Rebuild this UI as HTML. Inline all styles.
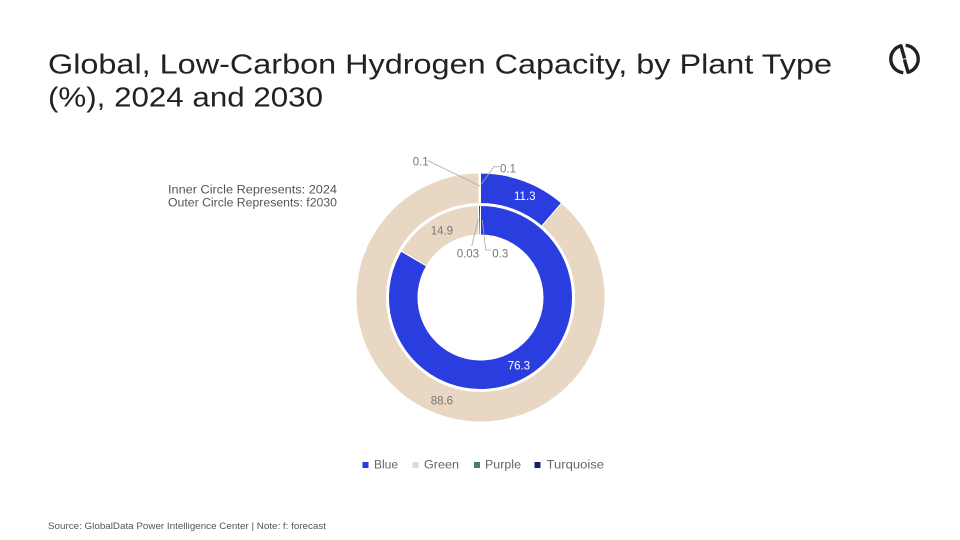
<!DOCTYPE html>
<html>
<head>
<meta charset="utf-8">
<style>
html,body{margin:0;padding:0;background:#fff;}
svg{display:block;}
text{font-family:"Liberation Sans",sans-serif;}
</style>
</head>
<body>
<svg width="960" height="540" viewBox="0 0 960 540" xmlns="http://www.w3.org/2000/svg">
<rect width="960" height="540" fill="#fff"/>
<!-- Title -->
<text x="48" y="73.5" font-size="28" fill="#222" textLength="784" lengthAdjust="spacingAndGlyphs">Global, Low-Carbon Hydrogen Capacity, by Plant Type</text>
<text x="48" y="106.5" font-size="28" fill="#222" textLength="275" lengthAdjust="spacingAndGlyphs">(%), 2024 and 2030</text>

<!-- Logo -->
<g fill="none" stroke="#222" stroke-width="3.4" stroke-linecap="butt" stroke-linejoin="round">
<path d="M904.6,58.5 L900.95,45.77 A13.7,13.7 0 0 0 903.31,72.65"/>
<path d="M904.4,59.5 L908.05,72.23 A13.7,13.7 0 0 0 905.69,45.35"/>
</g>

<!-- Side note -->
<text x="168" y="193.5" font-size="11.5" fill="#555" textLength="169" lengthAdjust="spacingAndGlyphs">Inner Circle Represents: 2024</text>
<text x="168" y="206.5" font-size="11.5" fill="#555" textLength="169" lengthAdjust="spacingAndGlyphs">Outer Circle Represents: f2030</text>

<!-- Outer ring (2030) -->
<g stroke="#fff" stroke-width="1">
<path fill="#2a3ee0" d="M480.5,173 A124.5,124.5 0 0 1 561.59,203.03 L541.72,226.17 A94,94 0 0 0 480.5,203.5 Z"/>
<path fill="#e8d8c3" d="M561.59,203.03 A124.5,124.5 0 1 1 478.93,173.01 L479.32,203.51 A94,94 0 1 0 541.72,226.17 Z"/>
<path fill="#4a7c6a" d="M478.93,173.01 A124.5,124.5 0 0 1 479.72,173 L479.91,203.5 A94,94 0 0 0 479.32,203.51 Z"/>
<path fill="#0d2370" d="M479.72,173 A124.5,124.5 0 0 1 480.5,173 L480.5,203.5 A94,94 0 0 0 479.91,203.5 Z"/>
</g>

<!-- Inner ring (2024) -->
<g stroke="#fff" stroke-width="1">
<path fill="#2a3ee0" d="M480.5,205.5 A92,92 0 1 1 401.07,251.09 L426.54,265.97 A62.5,62.5 0 1 0 480.5,235 Z"/>
<path fill="#e8d8c3" d="M401.07,251.09 A92,92 0 0 1 478.41,205.52 L479.08,235.02 A62.5,62.5 0 0 0 426.54,265.97 Z"/>
<path fill="#4a7c6a" d="M478.41,205.52 A92,92 0 0 1 478.61,205.52 L479.21,235.02 A62.5,62.5 0 0 0 479.08,235.02 Z"/>
<path fill="#0d2370" d="M478.61,205.52 A92,92 0 0 1 480.5,205.5 L480.5,235 A62.5,62.5 0 0 0 479.21,235.02 Z"/>
</g>

<!-- Leader lines -->
<g fill="none" stroke="#aaa" stroke-width="0.8">
<path d="M427.5,160.5 L480,186"/>
<path d="M499.5,166.7 L494,166.7 L481.5,184"/>
<path d="M471.7,246 L478.3,219"/>
<path d="M491.5,250 L485.7,250 L482.3,220"/>
</g>

<!-- Data labels -->
<g font-size="11.5">
<text x="412.7" y="165.3" fill="#777">0.1</text>
<text x="500" y="172.3" fill="#777">0.1</text>
<text x="514" y="200" fill="#fff">11.3</text>
<text x="430.7" y="234.3" fill="#777">14.9</text>
<text x="456.7" y="257.3" fill="#777">0.03</text>
<text x="492.3" y="257.3" fill="#777">0.3</text>
<text x="507.7" y="369.3" fill="#fff">76.3</text>
<text x="430.7" y="404.3" fill="#777">88.6</text>
</g>

<!-- Legend -->
<rect x="362.5" y="462" width="6" height="6" fill="#2a3ee0"/>
<text x="374" y="468.5" font-size="11.5" fill="#666" textLength="24" lengthAdjust="spacingAndGlyphs">Blue</text>
<rect x="412.5" y="462" width="6" height="6" fill="#e8d8c3"/>
<text x="424" y="468.5" font-size="11.5" fill="#666" textLength="35" lengthAdjust="spacingAndGlyphs">Green</text>
<rect x="474" y="462" width="6" height="6" fill="#4a7c6a"/>
<text x="485" y="468.5" font-size="11.5" fill="#666" textLength="36" lengthAdjust="spacingAndGlyphs">Purple</text>
<rect x="534.5" y="462" width="6" height="6" fill="#0d2370"/>
<text x="546.5" y="468.5" font-size="11.5" fill="#666" textLength="57.5" lengthAdjust="spacingAndGlyphs">Turquoise</text>

<!-- Source -->
<text x="48" y="529" font-size="9" fill="#555" textLength="278" lengthAdjust="spacingAndGlyphs">Source: GlobalData Power Intelligence Center | Note: f: forecast</text>
</svg>
</body>
</html>
